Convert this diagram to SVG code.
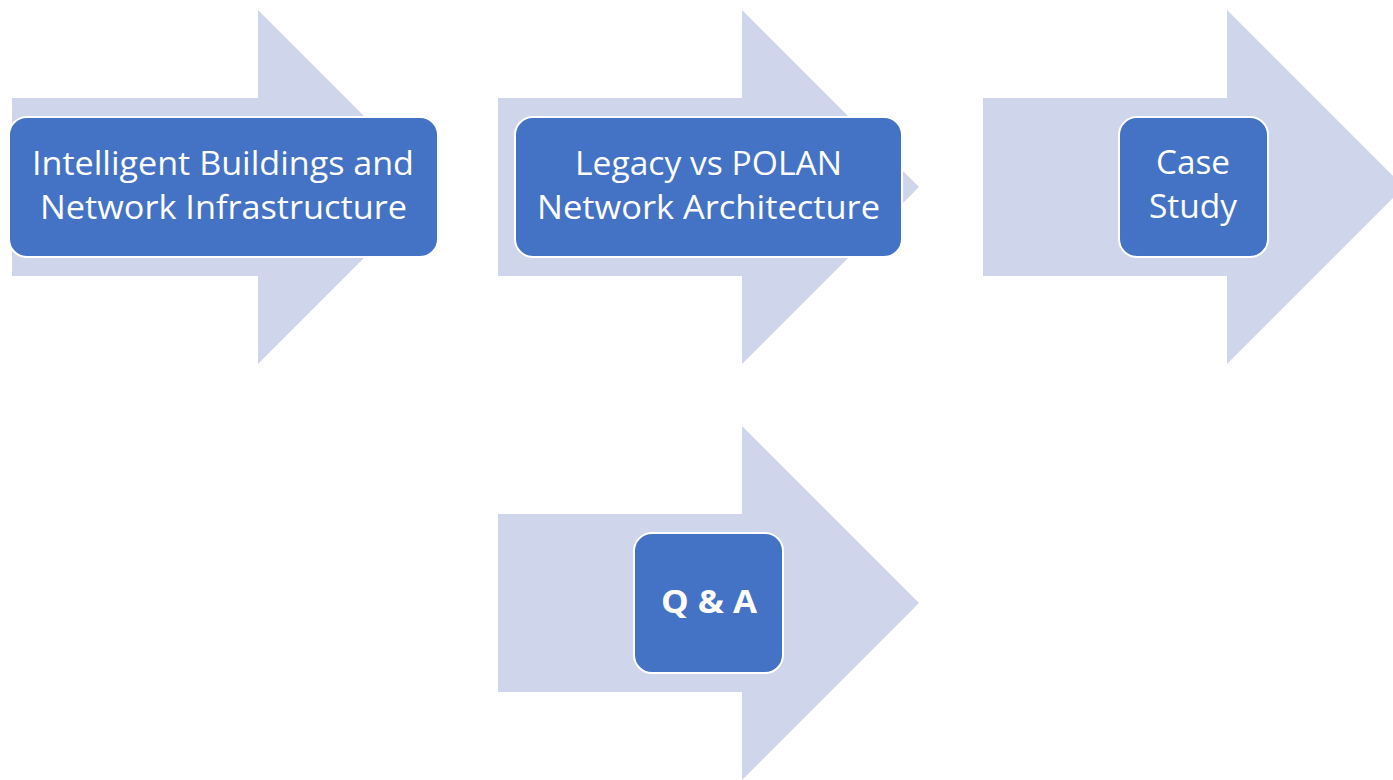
<svg xmlns="http://www.w3.org/2000/svg" width="1393" height="780" viewBox="0 0 1393 780">
<style>
.arrow{fill:#CFD5EA}
.box{fill:#4472C4;stroke:#FFFFFF;stroke-width:2}
.t{fill:#FFFFFF;font-family:"Open Sans","Liberation Sans",sans-serif;font-size:33px;text-anchor:middle}
.b{font-weight:bold}
</style>
<rect width="1393" height="780" fill="#FFFFFF"/>
<g id="connectors">
<polygon class="arrow" points="12,98 258,98 258,10 435,187 258,364 258,276 12,276"/>
<polygon class="arrow" points="498,98 742,98 742,10 919,187 742,364 742,276 498,276"/>
<polygon class="arrow" points="983,98 1227,98 1227,10 1404,187 1227,364 1227,276 983,276"/>
<polygon class="arrow" points="498,514 742,514 742,426 919,603 742,780 742,692 498,692"/>
</g>
<g id="node1">
<rect class="box" x="9" y="117" width="429" height="140" rx="18"/>
<text class="t" x="223" y="175" textLength="382" lengthAdjust="spacingAndGlyphs">Intelligent Buildings and</text>
<text class="t" x="223.5" y="219" textLength="367" lengthAdjust="spacingAndGlyphs">Network Infrastructure</text>
</g>
<g id="node2">
<rect class="box" x="515" y="117" width="387" height="140" rx="18"/>
<text class="t" x="708.5" y="175" textLength="267" lengthAdjust="spacingAndGlyphs">Legacy vs POLAN</text>
<text class="t" x="708.5" y="219" textLength="343" lengthAdjust="spacingAndGlyphs">Network Architecture</text>
</g>
<g id="node3">
<rect class="box" x="1119" y="117" width="149" height="140" rx="18"/>
<text class="t" x="1193" y="174" textLength="74" lengthAdjust="spacingAndGlyphs">Case</text>
<text class="t" x="1193" y="218" textLength="88" lengthAdjust="spacingAndGlyphs">Study</text>
</g>
<g id="node4">
<rect class="box" x="634" y="533" width="149" height="140" rx="18"/>
<text class="t b" x="709" y="613" textLength="96" lengthAdjust="spacingAndGlyphs">Q &amp; A</text>
</g>
</svg>
